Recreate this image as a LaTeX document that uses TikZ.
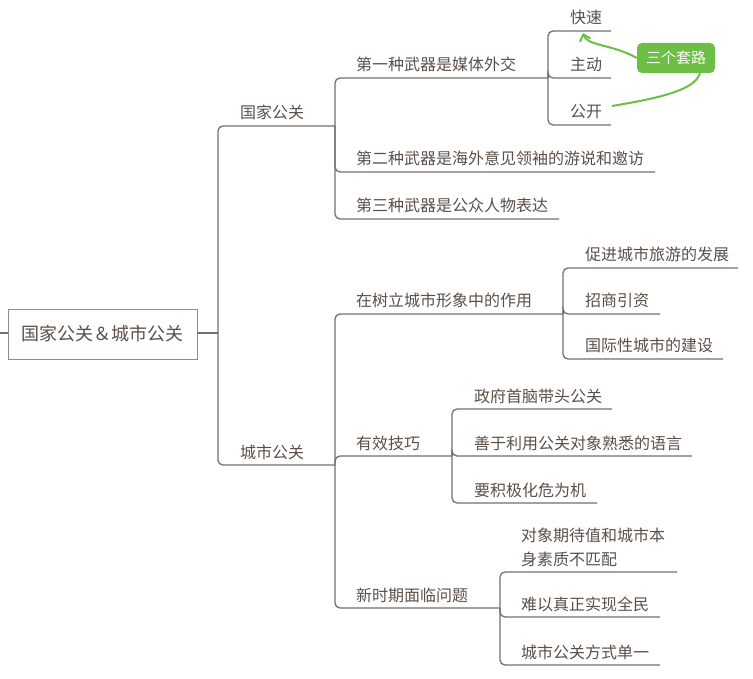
\documentclass[tikz,border=0pt]{standalone}
\usepackage{fontspec}
\setmainfont{Noto Sans CJK SC}
\usetikzlibrary{arrows.meta}
\definecolor{txt}{HTML}{5B4F47}
\definecolor{ln}{HTML}{707070}
\definecolor{grn}{HTML}{6CBE45}
\tikzset{
  lbl/.style={anchor=base west, inner sep=0pt, text=txt, font=\fontsize{16}{24}\selectfont},
  branch/.style={draw=ln, line width=1.3pt, rounded corners=5pt},
  rootbox/.style={draw=ln!80, line width=0.9pt, fill=white, minimum width=189pt, minimum height=50pt, inner sep=0pt, text=txt, font=\fontsize{18}{22}\selectfont},
  callout/.style={fill=grn, rounded corners=5pt, minimum width=78pt, minimum height=30pt, inner sep=0pt, text=white, font=\fontsize{15}{18}\selectfont},
  greenline/.style={draw=grn, line width=2pt}
}
\begin{document}
\begin{tikzpicture}[x=1pt,y=-1pt]
\useasboundingbox (0,0) rectangle (753,679);
% root
\node[rootbox] (root) at (102.5,334) {国家公关＆城市公关};
\coordinate (stub) at (0,333);
\draw[branch] (stub) -- (root.west |- stub);
\coordinate (J0) at (218,333);
\draw[branch] (root.east |- J0) -- (J0);
% level 2
\node[lbl] (gj) at (240,119) {国家公关};
\coordinate (gjE) at (335,126);
\node[lbl] (cs) at (240,458) {城市公关};
\coordinate (csE) at (335,465);
\draw[branch] (J0) |- (gjE);
\draw[branch] (J0) |- (csE);
% under 国家公关
\node[lbl] (a1) at (356,71) {第一种武器是媒体外交};
\coordinate (a1E) at (548,78);
\node[lbl] (a2) at (356,165) {第二种武器是海外意见领袖的游说和邀访};
\coordinate (a2E) at (655,172);
\node[lbl] (a3) at (356,212) {第三种武器是公众人物表达};
\coordinate (a3E) at (559,219);
\draw[branch] (gjE) |- (a1E);
\draw[branch] (gjE) |- (a2E);
\draw[branch] (gjE) |- (a3E);
% under 第一种
\node[lbl] (b1) at (570,24) {快速};
\coordinate (b1E) at (611,31);
\node[lbl] (b2) at (570,71) {主动};
\coordinate (b2E) at (611,78);
\node[lbl] (b3) at (570,118) {公开};
\coordinate (b3E) at (611,125);
\draw[branch] (a1E) |- (b1E);
\draw[branch] (a1E) |- (b2E);
\draw[branch] (a1E) |- (b3E);
% under 城市公关
\node[lbl] (c1) at (356,307) {在树立城市形象中的作用};
\coordinate (c1E) at (563,314);
\node[lbl] (c2) at (356,449) {有效技巧};
\coordinate (c2E) at (452,456);
\node[lbl] (c3) at (356,601) {新时期面临问题};
\coordinate (c3E) at (500,608);
\draw[branch] (csE) |- (c1E);
\draw[branch] (csE) |- (c2E);
\draw[branch] (csE) |- (c3E);
% under 在树立
\node[lbl] (d1) at (585,261) {促进城市旅游的发展};
\coordinate (d1E) at (738,268);
\node[lbl] (d2) at (585,307) {招商引资};
\coordinate (d2E) at (660,314);
\node[lbl] (d3) at (585,352) {国际性城市的建设};
\coordinate (d3E) at (723,359);
\draw[branch] (c1E) |- (d1E);
\draw[branch] (c1E) |- (d2E);
\draw[branch] (c1E) |- (d3E);
% under 有效技巧
\node[lbl] (e1) at (474,402) {政府首脑带头公关};
\coordinate (e1E) at (612,409);
\node[lbl] (e2) at (474,449) {善于利用公关对象熟悉的语言};
\coordinate (e2E) at (692,456);
\node[lbl] (e3) at (474,496) {要积极化危为机};
\coordinate (e3E) at (597,503);
\draw[branch] (c2E) |- (e1E);
\draw[branch] (c2E) |- (e2E);
\draw[branch] (c2E) |- (e3E);
% under 新时期
\node[lbl] (f1a) at (521,541) {对象期待值和城市本};
\node[lbl] (f1) at (521,565) {身素质不匹配};
\coordinate (f1E) at (677,572);
\node[lbl] (f2) at (521,610) {难以真正实现全民};
\coordinate (f2E) at (660,617);
\node[lbl] (f3) at (521,658) {城市公关方式单一};
\coordinate (f3E) at (660,665);
\draw[branch] (c3E) |- (f1E);
\draw[branch] (c3E) |- (f2E);
\draw[branch] (c3E) |- (f3E);
% callout
\node[callout] (tl) at (676,58) {三个套路};
\coordinate (tip) at (583,33);
\coordinate (pEnd) at (612,106);
\draw[greenline, -{Straight Barb[length=6pt,width=11pt]}] (tl.west) .. controls (612,44) and (587,46) .. (tip);
\draw[greenline] (tl.south -| 700,0) .. controls (695,90) and (660,98) .. (pEnd);
\end{tikzpicture}
\end{document}
